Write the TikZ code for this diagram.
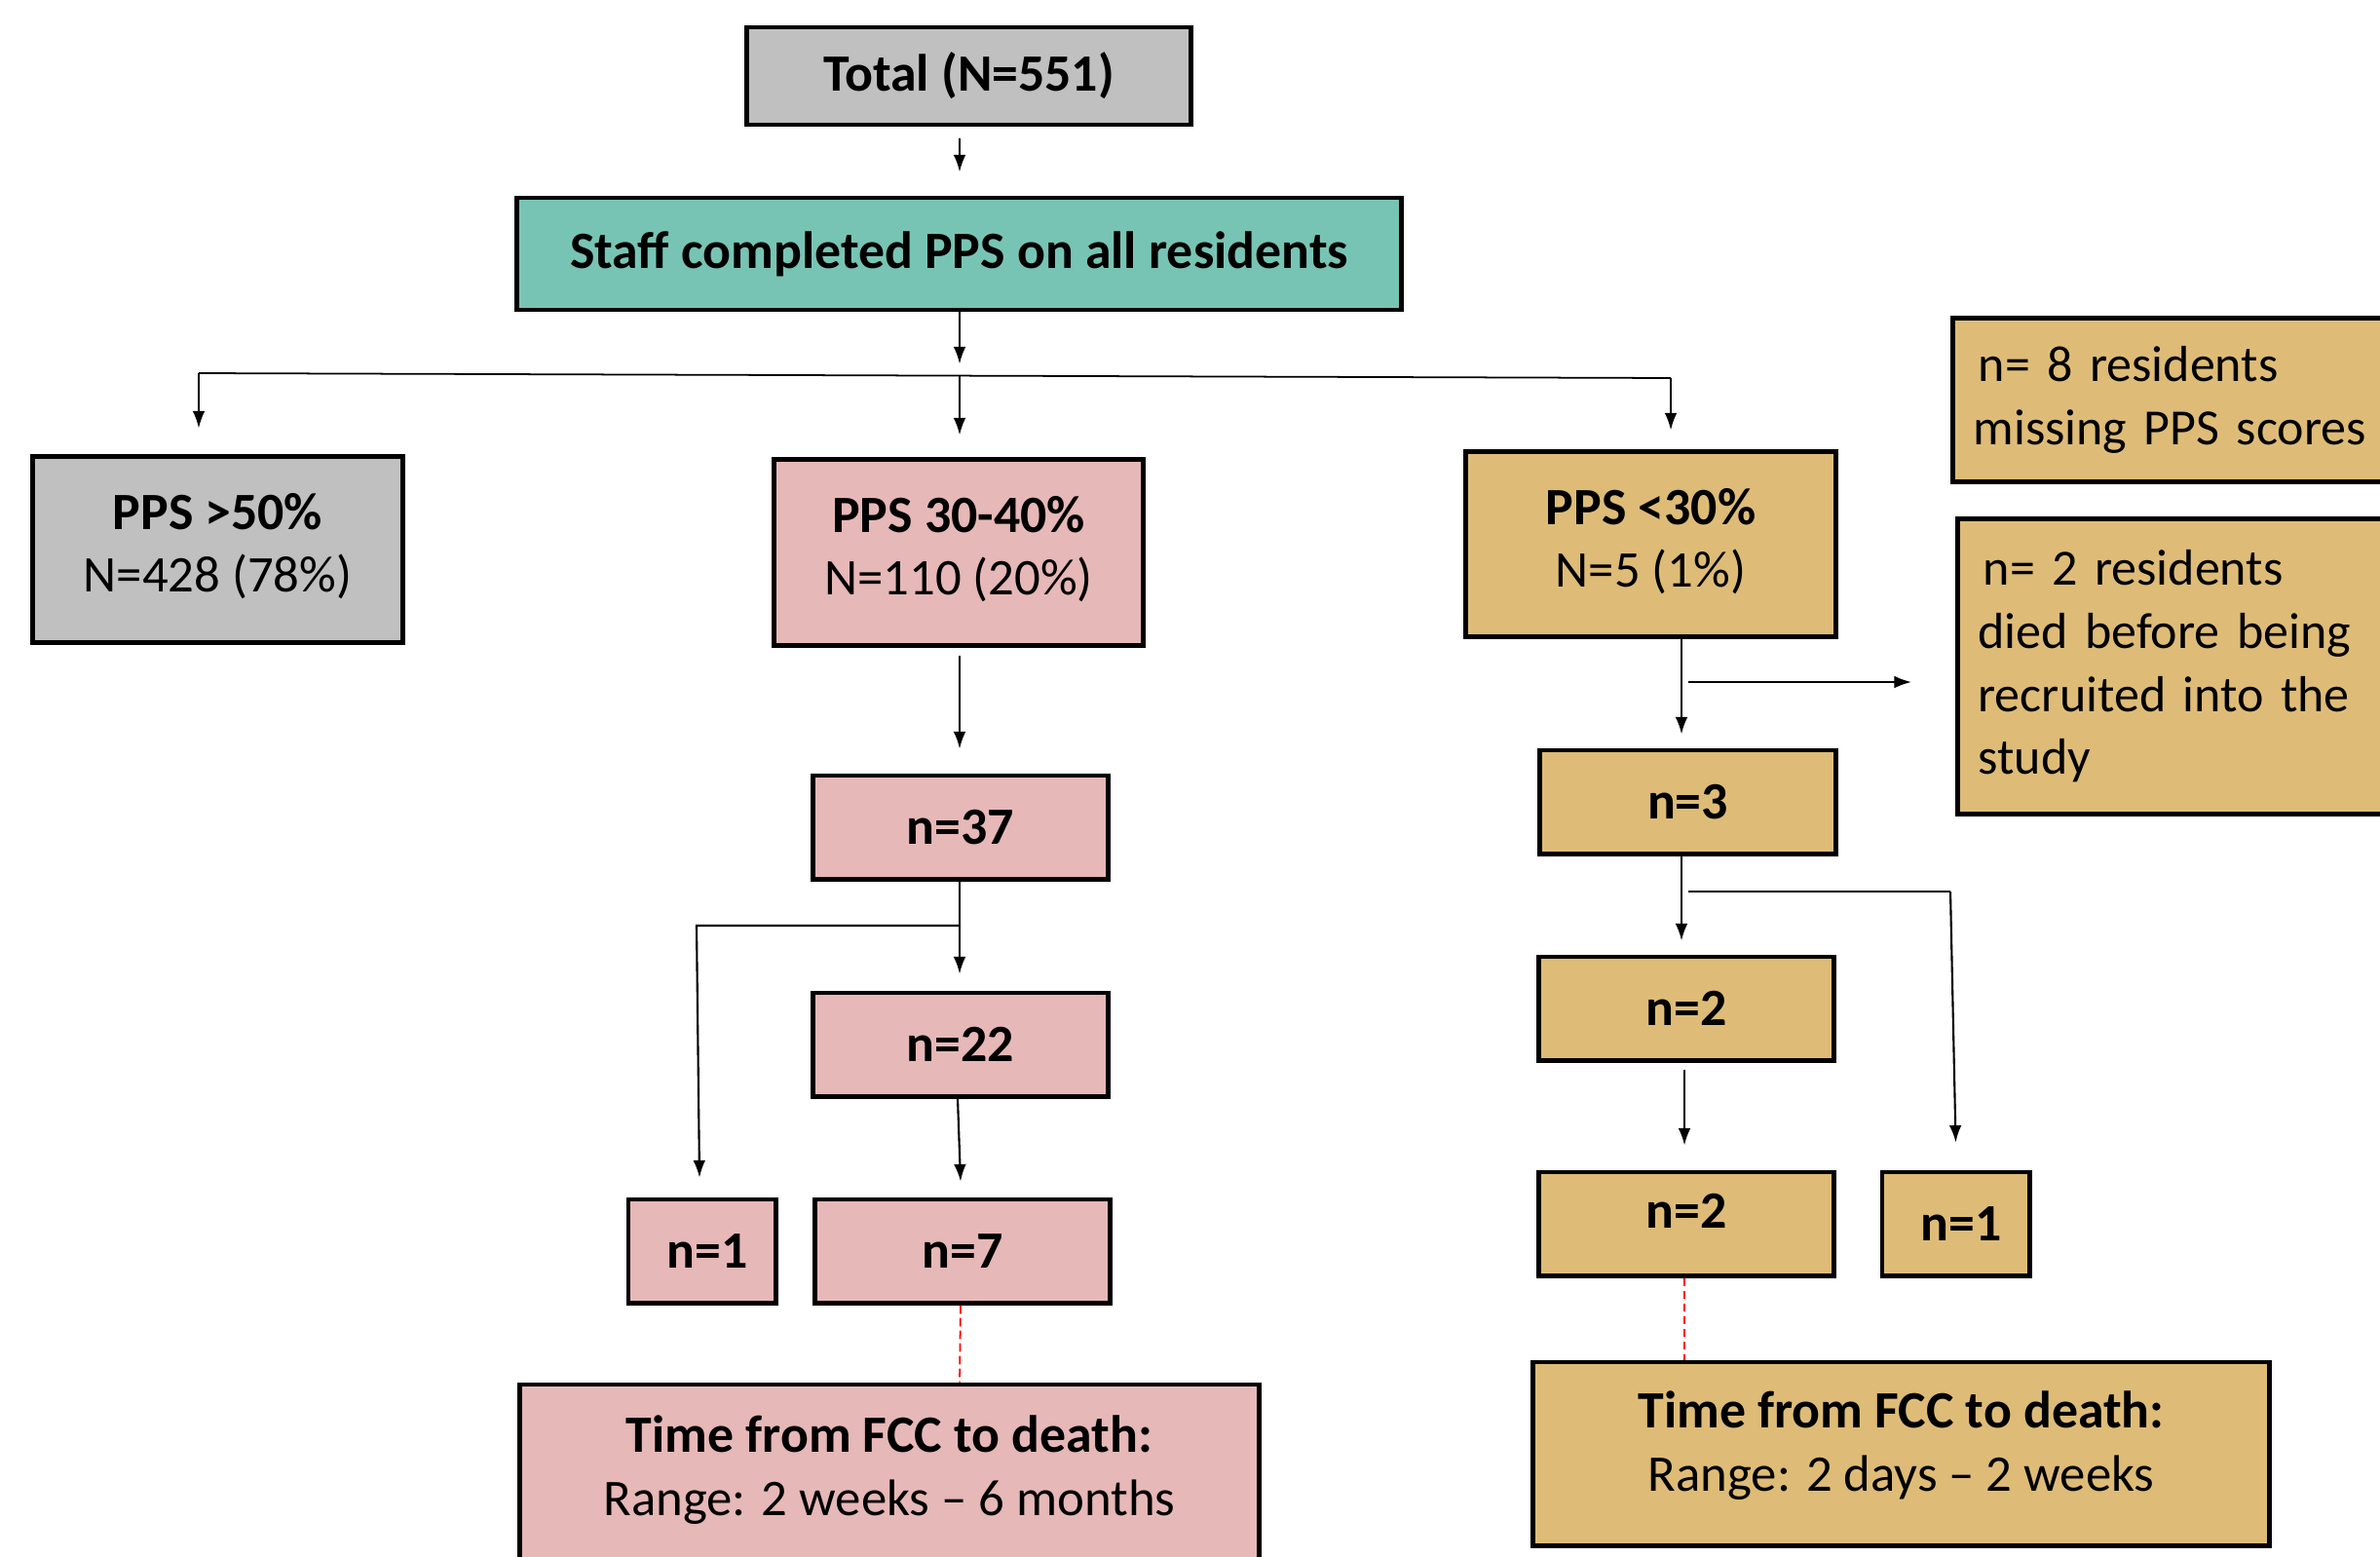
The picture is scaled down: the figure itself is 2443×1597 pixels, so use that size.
\documentclass[tikz,border=0pt]{standalone}
\usepackage{fontspec}
\setmainfont{Carlito}
\usetikzlibrary{arrows.meta,calc}
\definecolor{greyfill}{RGB}{192,192,192}
\definecolor{tealfill}{RGB}{120,196,180}
\definecolor{pinkfill}{RGB}{230,184,183}
\definecolor{tanfill}{RGB}{222,188,120}
\newcommand{\bfbig}[1]{{\fontsize{15.3}{18.4}\selectfont\bfseries #1}}
\newcommand{\deepen}[1]{\rule[-#1]{0pt}{#1}}
\begin{document}
\begin{tikzpicture}[x=0.01cm,y=-0.01cm,
  box/.style={draw=black, line width=1.4pt, rectangle, align=center, inner sep=0pt,
    font=\fontsize{15}{18.4}\selectfont},
  boldbox/.style={box, font=\fontsize{15.3}{18.4}\selectfont\bfseries},
  leftbox/.style={draw=black, line width=1.4pt, rectangle, align=left, inner ysep=0pt,
    inner xsep=0.21cm, anchor=west, font=\fontsize{14.8}{18.4}\selectfont},
  arr/.style={draw=black, line width=0.6pt, -{Latex[length=5pt,width=3.6pt]}},
  ln/.style={draw=black, line width=0.5pt},
  reddash/.style={draw=red, line width=0.5pt, dash pattern=on 2.5pt off 1.2pt}]
\useasboundingbox (0,0) rectangle (2443,1597);

% boxes
\node[boldbox, fill=greyfill, minimum width=4.55cm, minimum height=1.00cm] (total) at (994.5,78) {Total (N=551)};
\node[boldbox, fill=tealfill, minimum width=9.07cm, minimum height=1.15cm] (staff) at (984.5,260.5) {Staff completed PPS on all residents};
\node[box, fill=greyfill, minimum width=3.79cm, minimum height=1.90cm] (p50) at (223.5,564) {\bfbig{PPS >50\%}\\N=428 (78\%)\deepen{0.14cm}};
\node[box, fill=pinkfill, minimum width=3.78cm, minimum height=1.90cm] (p3040) at (984,567) {\bfbig{PPS 30-40\%}\\N=110 (20\%)\deepen{0.14cm}};
\node[box, fill=tanfill, minimum width=3.79cm, minimum height=1.89cm] (p30) at (1694.5,558.5) {\bfbig{PPS <30\%}\\N=5 (1\%)\deepen{0.13cm}};
\node[leftbox, fill=tanfill, text width=4.30cm, minimum height=1.67cm] (miss) at (2002,410.5) {\hspace{0.1em}n= 8 residents\\missing PPS scores};
\node[leftbox, fill=tanfill, text width=4.30cm, minimum height=3.02cm] (died) at (2007,684) {\hspace{0.1em}n= 2 residents\\died before being\\recruited into the\\study};

\node[boldbox, fill=pinkfill, minimum width=3.02cm, minimum height=1.06cm] (n37) at (986,849) {n=37};
\node[boldbox, fill=pinkfill, minimum width=3.02cm, minimum height=1.06cm] (n22) at (986,1072) {n=22};
\node[boldbox, fill=pinkfill, minimum width=1.51cm, minimum height=1.06cm] (n1a) at (720.5,1284) {\hspace{0.2em}n=1};
\node[boldbox, fill=pinkfill, minimum width=3.02cm, minimum height=1.06cm] (n7) at (988,1284) {n=7};
\node[box, fill=pinkfill, minimum width=7.58cm, minimum height=1.92cm] (timeL) at (913,1517) {\bfbig{Time from FCC to death:}\\Range: 2 weeks \textendash{} 6 months\deepen{0.26cm}};

\node[boldbox, fill=tanfill, minimum width=3.03cm, minimum height=1.06cm] (n3) at (1732.5,823) {n=3};
\node[boldbox, fill=tanfill, minimum width=3.02cm, minimum height=1.06cm] (n2a) at (1731,1035) {n=2};
\node[boldbox, fill=tanfill, minimum width=3.02cm, minimum height=1.06cm] (n2b) at (1731,1256) {\raisebox{0.5em}{n=2}};
\node[boldbox, fill=tanfill, minimum width=1.51cm, minimum height=1.06cm] (n1b) at (2007.5,1256) {\hspace{0.2em}n=1};
\node[box, fill=tanfill, minimum width=7.55cm, minimum height=1.88cm] (timeR) at (1951.5,1492) {\bfbig{Time from FCC to death:}\\Range: 2 days \textendash{} 2 weeks\deepen{0.26cm}};

% guide coordinates
\coordinate (xm) at (985,0);
\coordinate (xr) at (1726,0);
\coordinate (bm) at (985,385.5);
\coordinate (hl) at (204,383);
\coordinate (hr) at (1715,388);
\coordinate (b2) at (985,950);
\coordinate (b2l) at (715,950);
\coordinate (b3) at (1733,700);
\coordinate (b4) at (1733,915);
\coordinate (b4r) at (2002,915);

% connectors
\draw[arr, shorten <=0.12cm, shorten >=0.24cm] (xm |- total.south) -- (xm |- staff.north);
\draw[arr, shorten >=0.12cm] (xm |- staff.south) -- (bm);
\draw[ln] (hl) -- (hr);
\draw[arr, shorten >=0.27cm] (hl) -- (hl |- p50.north);
\draw[arr, shorten >=0.23cm] (bm) -- (bm |- p3040.north);
\draw[arr, shorten >=0.20cm] (hr) -- (hr |- p30.north);

\draw[arr, shorten <=0.08cm, shorten >=0.25cm] (xm |- p3040.south) -- (xm |- n37.north);
\draw[arr, shorten >=0.17cm] (xm |- n37.south) -- (xm |- n22.north);
\draw[arr] (b2) -- (b2l) -- ($(n1a.north)+(-2.5,-20)$);
\draw[arr] ($(n22.south)+(-3,0)$) -- ($(n7.north)+(-2,-16)$);
\draw[reddash] ($(n7.south)+(-2,0)$) -- ($(timeL.north)+(72,0)$);

\draw[arr, shorten >=0.14cm] (xr |- p30.south) -- (xr |- n3.north);
\draw[arr] (b3) -- ($(died.west |- b3)+(-45,0)$);
\draw[arr, shorten >=0.14cm] (xr |- n3.south) -- (xr |- n2a.north);
\draw[ln] (b4) -- (b4r);
\draw[arr] (b4r) -- ($(n1b.north)+(0,-28)$);
\draw[arr, shorten <=0.07cm] ($(n2a.south)+(-2,0)$) -- ($(n2b.north)+(-2,-25)$);
\draw[reddash] ($(n2b.south)+(-2,0)$) -- ($(timeR.north)+(-222.5,0)$);
\end{tikzpicture}
\end{document}
